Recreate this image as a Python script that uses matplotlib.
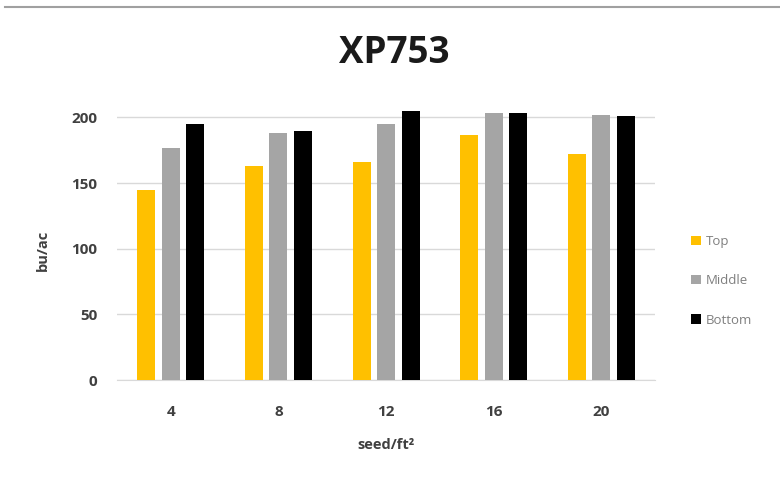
import matplotlib
matplotlib.use("Agg")
import matplotlib.pyplot as plt
from matplotlib.lines import Line2D
import numpy as np

categories = ["4", "8", "12", "16", "20"]
series_names = ["Top", "Middle", "Bottom"]
top_vals = [145, 163, 166, 187, 172]
middle_vals = [177, 188, 195, 203, 202]
bottom_vals = [195, 190, 205, 203, 201]
colors = ["#FFC000", "#A5A5A5", "#000000"]
y_ticks = [0, 50, 100, 150, 200]

plt.rcParams["font.family"] = ["Open Sans", "DejaVu Sans"]

fig = plt.figure(figsize=(7.8, 4.82), dpi=100)
ax = fig.add_axes([0.15, 0.2116, 0.69, 0.572])

x = np.arange(len(categories))
width = 0.167
step = 0.228
for i, (vals, c, name) in enumerate(zip([top_vals, middle_vals, bottom_vals], colors, series_names)):
    ax.bar(x + (i - 1) * step, vals, width=width, color=c, label=name, zorder=3)

ax.set_xlim(-0.5, len(categories) - 0.5)
ax.set_ylim(0, 210)
ax.set_yticks(y_ticks)
ax.set_xticks(x)
ax.set_xticklabels(categories)
ax.yaxis.grid(True, color="#d9d9d9", linewidth=1, zorder=0)
for s in ["top", "right", "left"]:
    ax.spines[s].set_visible(False)
ax.spines["bottom"].set_color("#d9d9d9")
ax.tick_params(axis="both", length=0, labelsize=11, labelcolor="#404040")
ax.tick_params(axis="x", pad=18)
ax.tick_params(axis="y", pad=14)
for lbl in ax.get_xticklabels() + ax.get_yticklabels():
    lbl.set_fontweight("bold")

xl = ax.set_xlabel("seed/ft²", fontsize=10.5, fontweight="bold", color="#404040")
xl.set_va("center")
ax.xaxis.set_label_coords(0.5, -0.236)
yl = ax.set_ylabel("bu/ac", fontsize=10.5, fontweight="bold", color="#404040")
yl.set_va("center")
ax.yaxis.set_label_coords(-0.1375, 0.47)

fig.text(0.506, 0.8693, "XP753", ha="center", va="baseline", fontsize=26.5,
         fontweight="bold", color="#1a1a1a")

leg = ax.legend(loc="center left", bbox_to_anchor=(1.045, 0.36), frameon=False,
                handlelength=0.7, handleheight=0.7, handletextpad=0.4,
                labelspacing=2.0, fontsize=9.5)
for t in leg.get_texts():
    t.set_color("#7f7f7f")

fig.add_artist(Line2D([0.006, 1.0], [0.985, 0.985], color="#a0a0a0", linewidth=1.5,
                      transform=fig.transFigure))

fig.savefig("out.png", dpi=100)
